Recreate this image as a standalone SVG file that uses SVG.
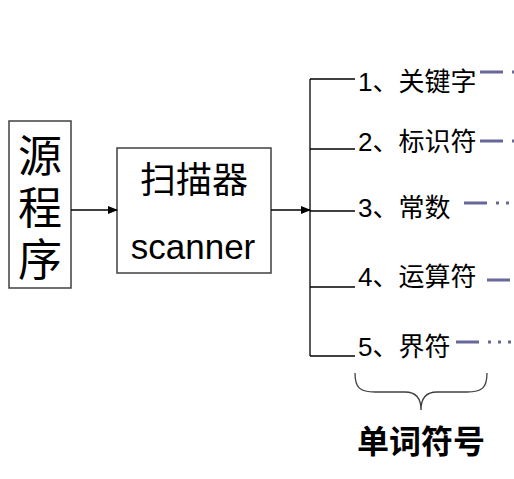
<svg xmlns="http://www.w3.org/2000/svg" width="514" height="479" viewBox="0 0 514 479">
<defs>
<marker id="ah" markerWidth="10" markerHeight="8" refX="9" refY="4" orient="auto" markerUnits="userSpaceOnUse">
<path d="M0,0 L10,4 L0,8 Z" fill="#000"/>
</marker>
<style>
.box{fill:#fff;stroke:#404040;stroke-width:1.5}
.t{font-family:"Liberation Sans","Noto Sans CJK SC",sans-serif;fill:#000}
.ln{stroke:#000;stroke-width:1.3;fill:none}
.br{stroke:#404040;stroke-width:1.3;fill:none}
.dd{stroke:#67679a;stroke-width:3;fill:none;stroke-dasharray:23 9 3 7 3 7 3 7}
</style>
</defs>
<rect width="514" height="479" fill="#fff"/>
<g id="source">
<rect class="box" x="9" y="121" width="62" height="167"/>
<text class="t" x="40" y="172" font-size="44" text-anchor="middle">源</text>
<text class="t" x="40" y="224" font-size="44" text-anchor="middle">程</text>
<text class="t" x="40" y="276" font-size="44" text-anchor="middle">序</text>
</g>
<g id="scanner">
<rect class="box" x="117" y="148" width="154" height="125"/>
<text class="t" x="194" y="193" font-size="36" text-anchor="middle">扫描器</text>
<text class="t" x="193" y="259" font-size="35" text-anchor="middle">scanner</text>
</g>
<g id="connectors">
<line class="ln" x1="71" y1="210" x2="117" y2="210" marker-end="url(#ah)"/>
<line class="ln" x1="271" y1="210" x2="310" y2="210" marker-end="url(#ah)"/>
<line class="ln" x1="310" y1="79" x2="310" y2="356"/>
<line class="ln" x1="310" y1="79" x2="355" y2="79"/>
<line class="ln" x1="310" y1="149" x2="355" y2="149"/>
<line class="ln" x1="310" y1="211" x2="355" y2="211"/>
<line class="ln" x1="310" y1="287" x2="355" y2="287"/>
<line class="ln" x1="310" y1="356" x2="355" y2="356"/>
</g>
<g id="token1">
<text class="t" x="358" y="91" font-size="26">1、关键字</text>
<line class="dd" x1="480" y1="72" x2="514" y2="72"/>
</g>
<g id="token2">
<text class="t" x="358" y="151" font-size="26">2、标识符</text>
<line class="dd" x1="480" y1="141" x2="514" y2="141"/>
</g>
<g id="token3">
<text class="t" x="358" y="217" font-size="26">3、常数</text>
<line class="dd" x1="464" y1="203" x2="514" y2="203"/>
</g>
<g id="token4">
<text class="t" x="358" y="286" font-size="26">4、运算符</text>
<line class="dd" x1="487" y1="280" x2="514" y2="280"/>
</g>
<g id="token5">
<text class="t" x="358" y="356" font-size="26">5、界符</text>
<line class="dd" x1="456" y1="342" x2="514" y2="342"/>
</g>
<g id="brace">
<path class="br" d="M355,373 C355,388 360,392 375,392 L405,392 C415,392 421,398 421,410 C421,398 427,392 437,392 L467,392 C482,392 487,388 487,373"/>
</g>
<g id="label">
<text class="t" x="421" y="453" font-size="32" font-weight="bold" text-anchor="middle">单词符号</text>
</g>
</svg>
